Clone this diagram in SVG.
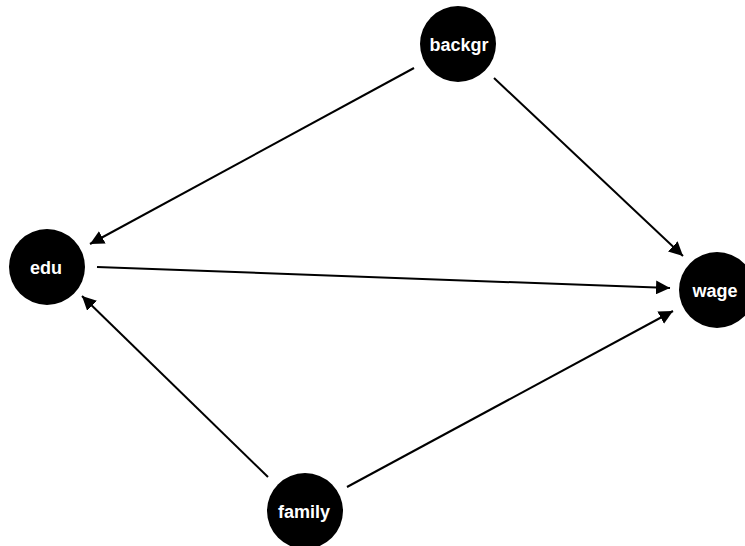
<svg xmlns="http://www.w3.org/2000/svg" width="745" height="546" viewBox="0 0 745 546">
<style>
.node circle{fill:#000}
.node text{fill:#fff;font-family:"Liberation Sans",Arial,sans-serif;font-weight:bold;font-size:18px;text-anchor:middle;dominant-baseline:central}
.edge{stroke:#000;stroke-width:2;fill:none;marker-end:url(#arr)}
</style>
<defs>
<marker id="arr" viewBox="0 0 10 10" refX="10" refY="5" markerWidth="7" markerHeight="7" markerUnits="strokeWidth" orient="auto">
<path d="M0,0 L10,5 L0,10 z" fill="#000"/>
</marker>
</defs>
<rect width="745" height="546" fill="#fff"/>
<g id="edges">
<line class="edge" x1="414" y1="68" x2="90" y2="244"/>
<line class="edge" x1="494" y1="78" x2="683" y2="256"/>
<line class="edge" x1="97" y1="267" x2="670" y2="288"/>
<line class="edge" x1="268" y1="477" x2="82" y2="296"/>
<line class="edge" x1="347" y1="487" x2="673" y2="311"/>
</g>
<g id="backgr" class="node"><circle cx="458" cy="44" r="38"/><text x="459" y="45">backgr</text></g>
<g id="edu" class="node"><circle cx="47" cy="267" r="38"/><text x="46" y="268">edu</text></g>
<g id="wage" class="node"><circle cx="717" cy="290" r="38"/><text x="715" y="291">wage</text></g>
<g id="family" class="node"><circle cx="305" cy="511" r="38"/><text x="304" y="512">family</text></g>
</svg>
